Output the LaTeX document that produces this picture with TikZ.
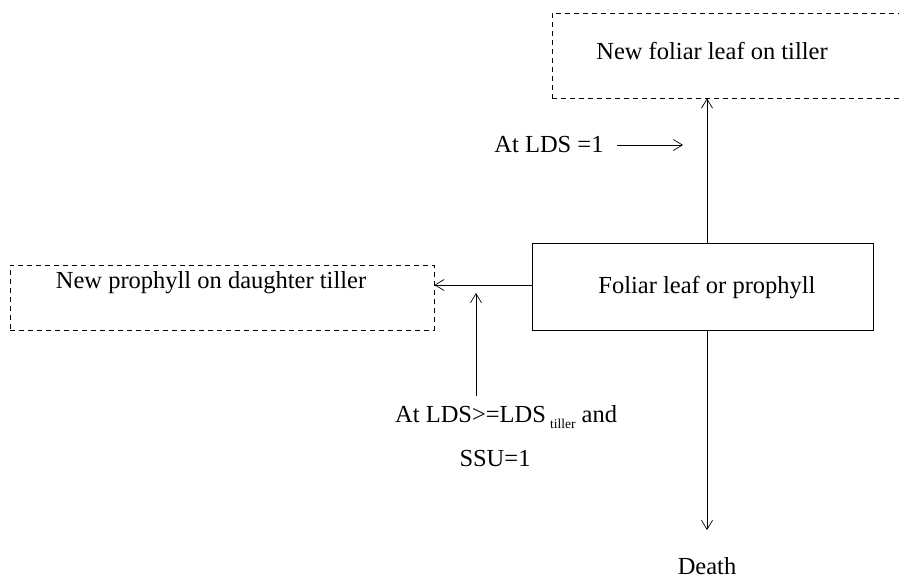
\documentclass[tikz,border=0pt]{standalone}
\usepackage{fontspec}
\setmainfont{Liberation Serif}
\usetikzlibrary{arrows.meta}
\begin{document}
\begin{tikzpicture}[x=1pt,y=-1pt,
  every node/.style={font=\fontsize{24.5}{28}\selectfont, inner sep=0pt},
  dashbox/.style={draw, dash pattern=on 5pt off 4pt, line width=0.9pt},
  solidbox/.style={draw, line width=0.9pt},
  flow/.style={draw, line width=0.7pt, -{Straight Barb[length=9pt,width=11pt,line width=0.7pt]}}
]
\useasboundingbox (0,0) rectangle (899,579);

% boxes
\node[dashbox, minimum width=358pt, minimum height=85pt] (newleaf) at (731,55.5) {};
\node at (712,51) {New foliar leaf on tiller};
\node[solidbox, minimum width=341pt, minimum height=87pt] (leaf) at (702.5,286.5) {};
\node at (707,288) {Foliar leaf or prophyll};
\node[dashbox, minimum width=424pt, minimum height=65pt] (prophyll) at (222,297.5) {};
\node at (211,283) {New prophyll on daughter tiller};

% labels
\node (cond1) at (549,145) {At LDS =1};
\node[anchor=west] (condA) at (395,417) {At LDS>=LDS\,\raisebox{-0.55ex}{\fontsize{13.5}{14}\selectfont tiller} and};
\node (condB) at (495,458) {SSU=1};
\node (death) at (707,566) {Death};
\coordinate (joint) at (476,293);
\coordinate (tipA) at (617,145);
\coordinate (tipB) at (683,145);

% connectors
\draw[flow] (leaf.north -| 707,0) -- (newleaf.south -| 707,0);
\draw[flow] (leaf.west |- 0,285) -- (prophyll.east |- 0,285);
\draw[flow] (leaf.south -| 707,0) -- (707,530);
\draw[flow] (476,396) -- (joint);
\draw[flow] (tipA) -- (tipB);
\end{tikzpicture}
\end{document}
